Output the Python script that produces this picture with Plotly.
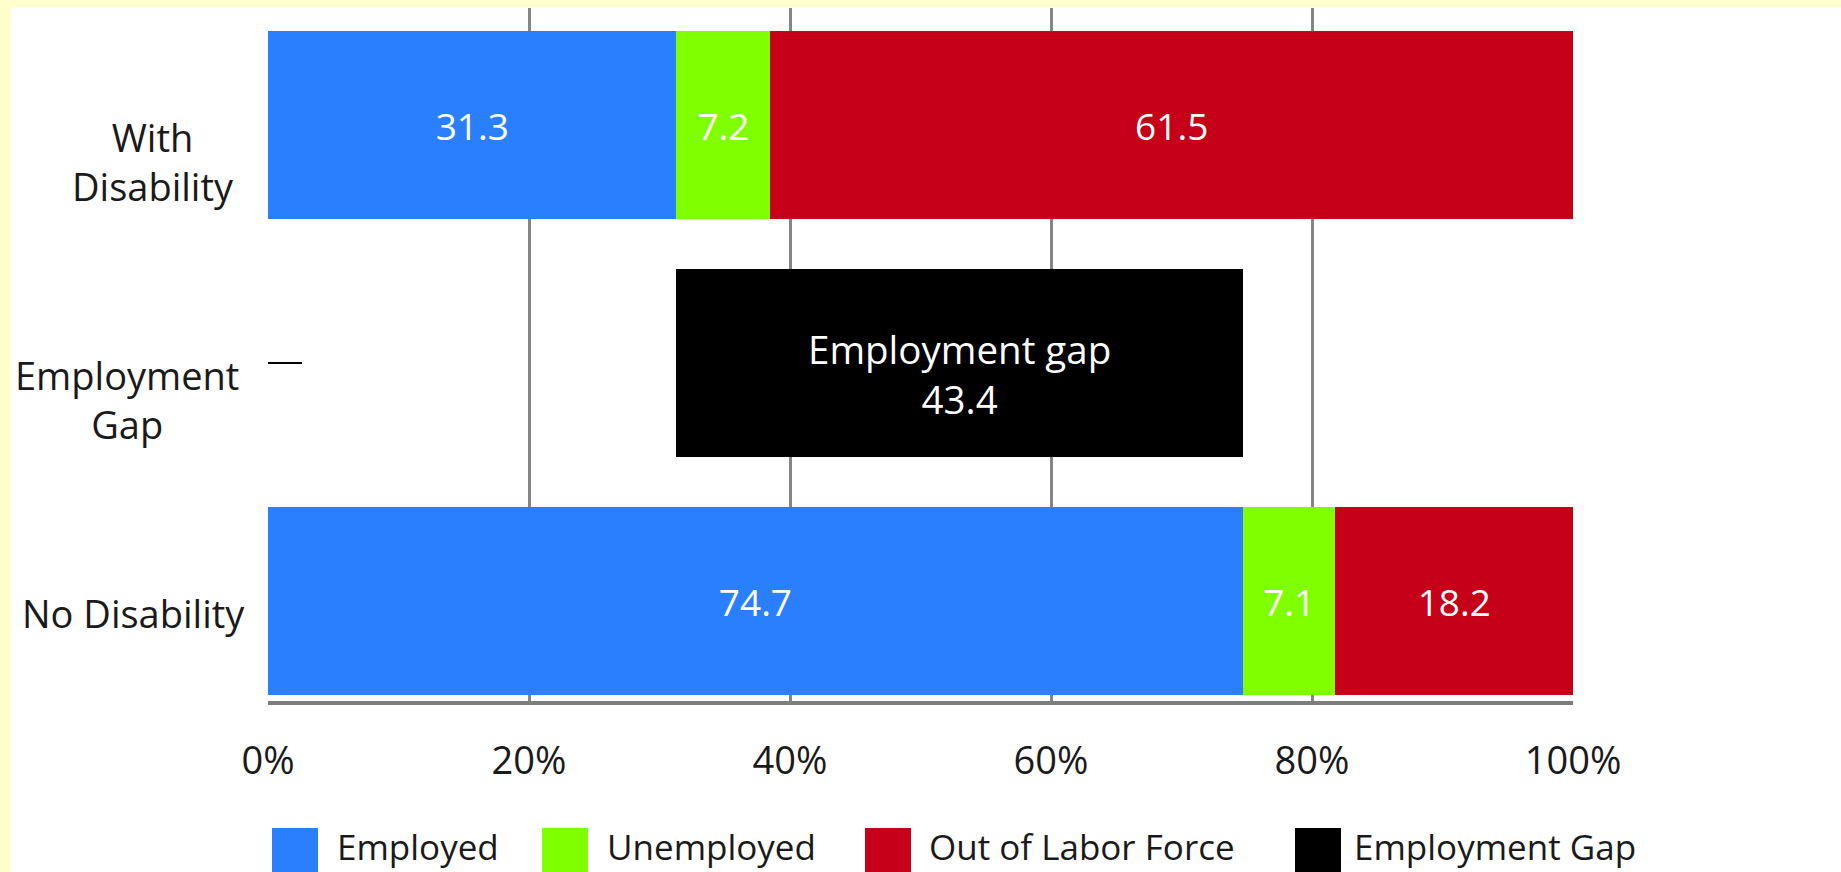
import plotly.graph_objects as go

# ---------------- data ----------------
categories = ["No Disability", "Employment Gap", "With Disability"]
groups = ["With Disability", "No Disability"]
employed = [31.3, 74.7]
unemployed = [7.2, 7.1]
out_of_labor = [61.5, 18.2]
gap_category = ["Employment Gap"]
gap_value = [43.4]
gap_base = [31.3]
series_names = ["Employed", "Unemployed", "Out of Labor Force", "Employment Gap"]
x_ticks = [0, 20, 40, 60, 80, 100]
x_ticktext = ["0%", "20%", "40%", "60%", "80%", "100%"]
y_labels = {"With Disability": "With<br>Disability",
            "Employment Gap": "Employment<br>Gap",
            "No Disability": "No Disability"}

# ---------------- style ----------------
W, H = 1841, 872
ML, MR, MT, MB = 268, 268, 8, 171
PW, PH = W - ML - MR, H - MT - MB
colors = ["#2A7FFF", "#7FFF00", "#C50018", "#000000"]
FONT = "Open Sans"
TXT = "#1a1a1a"


def px_x(p):
    return (p - ML) / PW


def px_y(p):
    return (H - MB - p) / PH


fig = go.Figure()
for name, vals, col in zip(series_names[:3], [employed, unemployed, out_of_labor], colors[:3]):
    fig.add_trace(go.Bar(
        y=groups, x=vals, orientation="h", name=name,
        marker=dict(color=col, line=dict(width=0)),
        text=[f"{v:.1f}" for v in vals], textposition="inside",
        insidetextanchor="middle", constraintext="none",
        textfont=dict(color="white", size=37, family=FONT),
        showlegend=False, hoverinfo="skip",
    ))

fig.add_trace(go.Bar(
    y=gap_category, x=gap_value, base=gap_base, orientation="h",
    name=series_names[3], marker=dict(color=colors[3], line=dict(width=0)),
    showlegend=False, hoverinfo="skip",
))

annotations = []
# gap label, placed at the middle of the gap bar
for cat, v, b in zip(gap_category, gap_value, gap_base):
    annotations.append(dict(
        x=b + v / 2, xref="x", y=cat, yref="y", yshift=-11,
        xanchor="center", yanchor="middle", align="center",
        text=f"Employment gap<br>{v:.1f}", showarrow=False,
        font=dict(size=38.5, family=FONT, color="white"),
    ))

# y-axis labels (centered lines)
label_right = {"With Disability": 236, "Employment Gap": 241, "No Disability": 247}
for cat, txt in y_labels.items():
    annotations.append(dict(
        x=px_x(label_right[cat]), xref="paper", y=cat, yref="y",
        xanchor="right", yanchor="top", yshift=16, align="center",
        text=txt, showarrow=False,
        font=dict(size=38, family=FONT, color=TXT),
    ))

# page frame: white page with a thin yellow strip on the top and left
shapes = [
    dict(type="rect", xref="paper", yref="paper", layer="below",
         x0=px_x(-2), x1=px_x(W + 2), y0=px_y(7), y1=px_y(-2),
         fillcolor="#FFFFCC", line=dict(width=0)),
    dict(type="rect", xref="paper", yref="paper", layer="below",
         x0=px_x(-2), x1=px_x(11), y0=px_y(H + 2), y1=px_y(-2),
         fillcolor="#FFFFCC", line=dict(width=0)),
]

# manual legend
sw_x = [272, 542, 865, 1295]
txt_x = [335, 605, 927, 1352]
for i, name in enumerate(series_names):
    shapes.append(dict(type="rect", xref="paper", yref="paper",
                       x0=px_x(sw_x[i]), x1=px_x(sw_x[i] + 46),
                       y0=px_y(H + 2), y1=px_y(828),
                       fillcolor=colors[i], line=dict(width=0)))
    annotations.append(dict(x=px_x(txt_x[i]), xref="paper", y=px_y(847), yref="paper",
                            xanchor="left", yanchor="middle", text=name, showarrow=False,
                            font=dict(size=35, family=FONT, color=TXT)))

fig.update_layout(
    width=W, height=H,
    margin=dict(l=ML, r=MR, t=MT, b=MB, pad=0),
    paper_bgcolor="white", plot_bgcolor="white",
    barmode="stack", bargap=0.21,
    showlegend=False,
    shapes=shapes, annotations=annotations,
    xaxis=dict(range=[0, 100], tickvals=x_ticks, ticktext=x_ticktext,
               showgrid=True, gridcolor="#858585", gridwidth=2.5,
               zeroline=False, showline=True, linecolor="#7d7d7d", linewidth=4,
               ticks="", ticklabelstandoff=23, layer="below traces",
               tickfont=dict(size=38, family=FONT, color=TXT), fixedrange=True),
    yaxis=dict(categoryorder="array", categoryarray=categories,
               range=[-0.42, 2.4916], showgrid=False, zeroline=False,
               showticklabels=False, ticks="inside", ticklen=34, tickwidth=2,
               tickcolor="black", showline=False, layer="below traces", fixedrange=True),
)

fig.write_html("out.html")
